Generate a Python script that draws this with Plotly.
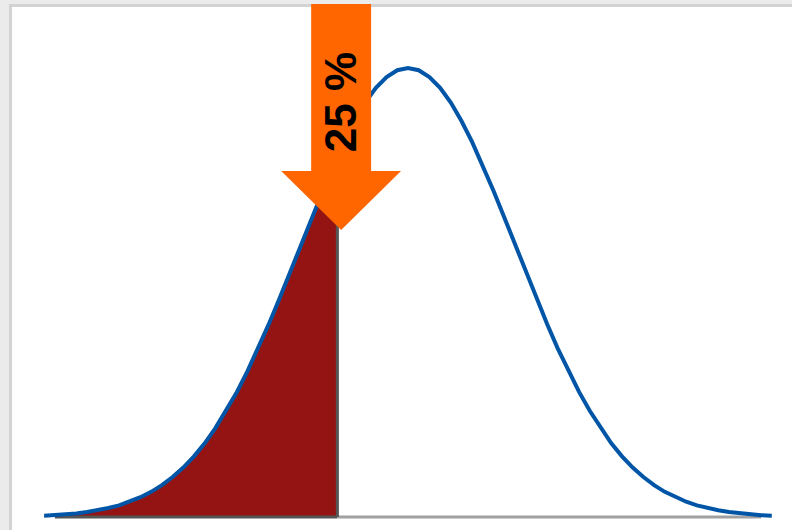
import numpy as np
import plotly.graph_objects as go

# standardized value (units of sigma) and relative frequency (peak = 100)
z_values = [-3.4, -3.3, -3.2, -3.1, -3.0, -2.9, -2.8, -2.7, -2.6, -2.5,
            -2.4, -2.3, -2.2, -2.1, -2.0, -1.9, -1.8, -1.7, -1.6, -1.5,
            -1.4, -1.3, -1.2, -1.1, -1.0, -0.9, -0.8, -0.7, -0.6, -0.5,
            -0.4, -0.3, -0.2, -0.1, 0.0, 0.1, 0.2, 0.3, 0.4, 0.5,
            0.6, 0.7, 0.8, 0.9, 1.0, 1.1, 1.2, 1.3, 1.4, 1.5,
            1.6, 1.7, 1.8, 1.9, 2.0, 2.1, 2.2, 2.3, 2.4, 2.5,
            2.6, 2.7, 2.8, 2.9, 3.0, 3.1, 3.2, 3.3, 3.4]
frequency = [0.3, 0.4, 0.6, 0.8, 1.1, 1.5, 2.0, 2.6, 3.4, 4.4,
             5.6, 7.1, 8.9, 11.0, 13.5, 16.4, 19.8, 23.6, 27.8, 32.5,
             37.5, 43.0, 48.7, 54.6, 60.7, 66.7, 72.6, 78.3, 83.5, 88.2,
             92.3, 95.6, 98.0, 99.5, 100.0, 99.5, 98.0, 95.6, 92.3, 88.2,
             83.5, 78.3, 72.6, 66.7, 60.7, 54.6, 48.7, 43.0, 37.5, 32.5,
             27.8, 23.6, 19.8, 16.4, 13.5, 11.0, 8.9, 7.1, 5.6, 4.4,
             3.4, 2.6, 2.0, 1.5, 1.1, 0.8, 0.6, 0.4, 0.3]
cutoff = -0.66          # 25th percentile position
base_range = [-3.3, 3.3]
label_text = "25 %"

z = np.array(z_values)
f = np.array(frequency)
f_cut = float(np.interp(cutoff, z, f))
mask = z < cutoff
fill_x = list(z[mask]) + [cutoff]
fill_y = list(f[mask]) + [f_cut]

fig = go.Figure()
fig.add_trace(go.Scatter(x=fill_x, y=fill_y, mode="lines", fill="tozeroy",
                         fillcolor="#941414", line=dict(width=0, color="#941414"),
                         hoverinfo="skip", showlegend=False))
fig.add_trace(go.Scatter(x=[base_range[0], cutoff], y=[0, 0], mode="lines",
                         line=dict(color="#555555", width=3), showlegend=False))
fig.add_trace(go.Scatter(x=[cutoff, base_range[1]], y=[0, 0], mode="lines",
                         line=dict(color="#a0a0a0", width=3), showlegend=False))
fig.add_trace(go.Scatter(x=[cutoff, cutoff], y=[0, f_cut], mode="lines",
                         line=dict(color="#555555", width=3), showlegend=False))
fig.add_trace(go.Scatter(x=z_values, y=frequency, mode="lines",
                         line=dict(color="#0055a6", width=4), showlegend=False))

W, H = 792, 530
ml, mt = 12, 7
pw, ph = W - ml, H - mt

def py(p):
    return 1 - (p - mt) / ph

def px(p):
    return (p - ml) / pw

ac = cutoff + 0.035
sh, hh = 0.28, 0.56
top, base, tip = py(4), py(171), py(230)
arrow = (f"M {ac-sh},{top} L {ac+sh},{top} L {ac+sh},{base} L {ac+hh},{base} "
         f"L {ac},{tip} L {ac-hh},{base} L {ac-sh},{base} Z")

shapes = [
    dict(type="line", xref="paper", yref="paper", x0=px(10.5), x1=px(10.5),
         y0=py(4), y1=py(540), line=dict(color="#d3d3d3", width=3), layer="above"),
    dict(type="line", xref="paper", yref="paper", x0=px(9), x1=px(800),
         y0=py(5.5), y1=py(5.5), line=dict(color="#d3d3d3", width=3), layer="above"),
    dict(type="path", xref="x", yref="paper", path=arrow, fillcolor="#ff6600",
         line=dict(width=0), layer="above"),
]

fig.update_layout(
    width=W, height=H,
    margin=dict(l=ml, r=0, t=mt, b=0, pad=0),
    paper_bgcolor="#ebebeb", plot_bgcolor="#ffffff",
    xaxis=dict(range=[(ml - 408) / 107, (W - 408) / 107], visible=False, fixedrange=True),
    yaxis=dict(range=[-(H - 517) / 4.49, (517 - mt) / 4.49], visible=False, fixedrange=True),
    shapes=shapes,
    annotations=[dict(text=f"<b>{label_text}</b>", x=ac, y=py(102), xref="x", yref="paper",
                      xanchor="center", yanchor="middle",
                      showarrow=False, textangle=-90,
                      font=dict(family="Liberation Sans, Arial", size=44, color="#000000"))],
    showlegend=False,
)

fig.write_html("out.html", config={"displayModeBar": False},
               post_script="document.body.style.margin='0';document.body.style.overflow='hidden';")
